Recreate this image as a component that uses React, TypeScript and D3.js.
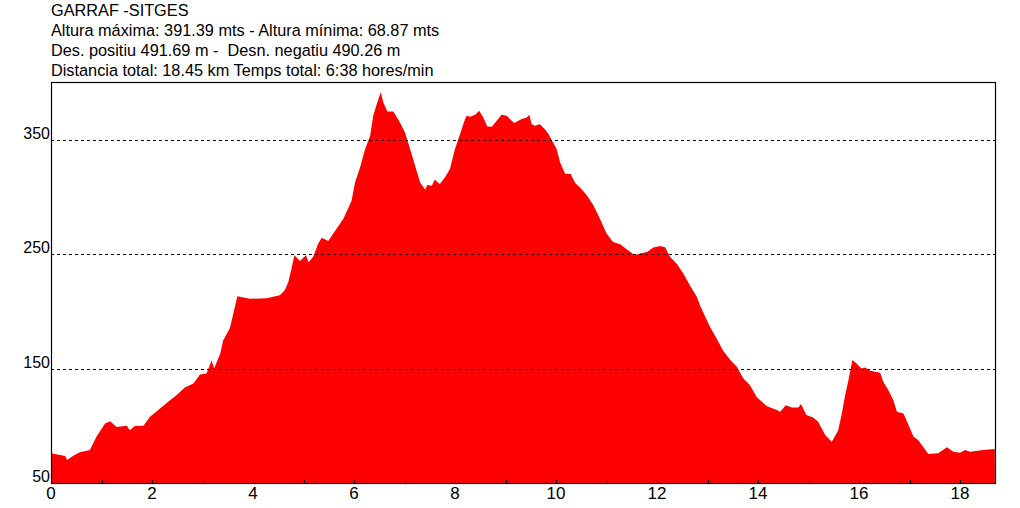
import { useEffect, useRef } from 'react';
import * as d3 from 'd3';

// profile: distance (km) and altitude (m)
const distKm = [
  0, 0.28, 0.32, 0.44, 0.57, 0.77, 0.9, 1.07, 1.17, 1.3, 1.5, 1.56, 1.66, 1.83, 1.96,
  2.16, 2.32, 2.49, 2.65, 2.82, 2.95, 3.08, 3.18, 3.23, 3.35, 3.41, 3.54, 3.61, 3.69,
  3.94, 4.27, 4.53, 4.63, 4.7, 4.77, 4.82, 4.93, 5.05, 5.1, 5.19, 5.29, 5.36, 5.49,
  5.59, 5.79, 5.95, 6.02, 6.12, 6.22, 6.32, 6.38, 6.45, 6.53, 6.58, 6.66, 6.78, 6.91,
  7.01, 7.11, 7.21, 7.31, 7.41, 7.45, 7.54, 7.6, 7.7, 7.8, 7.9, 8.0, 8.1, 8.2, 8.23,
  8.3, 8.4, 8.48, 8.56, 8.64, 8.73, 8.83, 8.92, 9.02, 9.17, 9.32, 9.42, 9.47, 9.52,
  9.58, 9.68, 9.78, 9.85, 10.01, 10.08, 10.18, 10.29, 10.38, 10.48, 10.61, 10.74,
  10.87, 11.0, 11.13, 11.27, 11.4, 11.56, 11.66, 11.8, 11.93, 12.06, 12.16, 12.26,
  12.39, 12.52, 12.65, 12.79, 12.85, 13.05, 13.18, 13.31, 13.45, 13.58, 13.71, 13.84,
  13.97, 14.17, 14.37, 14.44, 14.55, 14.67, 14.8, 14.85, 14.96, 15.09, 15.19, 15.33,
  15.46, 15.52, 15.59, 15.66, 15.72, 15.79, 15.87, 15.95, 16.05, 16.12, 16.22, 16.42,
  16.48, 16.58, 16.68, 16.75, 16.88, 16.98, 17.08, 17.17, 17.27, 17.37, 17.57, 17.74,
  17.87, 18.0, 18.1, 18.2, 18.46, 18.69,
];
const elevM = [
  76, 73.6, 70, 73.8, 76.8, 78.8, 90.4, 102, 104, 99, 100, 96, 99.8, 100, 107.9,
  115.2, 121, 126.8, 133.5, 137, 144.9, 145.7, 157, 150, 163, 174.8, 185, 198, 213.2,
  211, 211.5, 214, 218.5, 225.7, 238.8, 249, 244, 249, 243, 247.5, 259, 264.4, 261.5,
  268, 281, 296.4, 312.7, 325.8, 341.8, 353.5, 371, 381, 391.4, 382.6, 374.7, 374.7, 365,
  356.4, 341.8, 327.3, 312.7, 306.3, 310.4, 309.8, 315, 311.2, 317, 324.3, 341.8, 354.9, 368, 371,
  370, 371.8, 375.3, 369.5, 361.6, 361.3, 366.8, 371.8, 371, 364.5, 368, 369.5, 371.8, 363.6,
  362.2, 363.6, 359.2, 354.9, 342, 330.4, 320.3, 320, 312.1, 308, 301.4, 292.7,
  281, 268, 260.6, 258.6, 254.2, 249, 250.5, 251.9, 255.7, 257.1, 256, 247.5,
  241.7, 233, 222.8, 212.6, 205.4, 186.4, 176.3, 165.5, 157.4, 151.5, 141.4, 135.5,
  125.3, 117.2, 113.7, 112.2, 118, 116, 116, 119, 109.4, 107.3, 103.5, 91.9,
  86, 90.4, 96.3, 110.8, 125.3, 139.9, 157.4, 154.5, 150.1, 151, 148, 146.3,
  138.4, 131.2, 122.4, 112.2, 110.8, 100.6, 90.4, 87.5, 81.7, 75.3, 75.9, 81.2,
  77.3, 76.4, 78.8, 77.3, 78.8, 79.7,
];

const headerLines = [
  'GARRAF -SITGES',
  'Altura máxima: 391.39 mts - Altura mínima: 68.87 mts',
  'Des. positiu 491.69 m -  Desn. negatiu 490.26 m',
  'Distancia total: 18.45 km Temps total: 6:38 hores/min',
];
const xTickLabels = [0, 2, 4, 6, 8, 10, 12, 14, 16, 18];
const yTickLabels = [50, 150, 250, 350];
const gridLevels = [150, 250, 350];

const W = 1020;
const H = 508;
const FONT = 'Arial, "Liberation Sans", sans-serif';

export default function App() {
  const svgRef = useRef<SVGSVGElement>(null);

  useEffect(() => {
    if (!svgRef.current) return;
    const svg = d3.select(svgRef.current);
    svg.selectAll('*').remove();

    const left = 51, right = 995, top = 82, bottom = 483;
    const x = d3.scaleLinear().domain([0, 18]).range([left, 960]);
    const y = d3.scaleLinear().domain([50, 400]).range([bottom, top + 0.5]);

    svg.append('rect').attr('width', W).attr('height', H).attr('fill', '#fff');

    // header text
    svg.append('g')
      .selectAll('text')
      .data(headerLines)
      .enter().append('text')
      .attr('x', left)
      .attr('y', (d, i) => 16 + i * 20)
      .style('font-family', FONT)
      .style('font-size', '16.3px')
      .style('white-space', 'pre')
      .style('fill', '#000')
      .text(d => d);

    const pts = distKm.map((d, i) => [d, elevM[i]] as [number, number]);

    const area = d3.area<[number, number]>()
      .x(d => x(d[0]))
      .y0(bottom)
      .y1(d => y(d[1]))
      .curve(d3.curveLinear);

    svg.append('path')
      .datum(pts)
      .attr('d', area)
      .attr('fill', '#ff0000');

    // dashed grid over the fill
    svg.append('g')
      .selectAll('line')
      .data(gridLevels)
      .enter().append('line')
      .attr('x1', left)
      .attr('x2', right)
      .attr('y1', d => Math.round(y(d)) + 0.5)
      .attr('y2', d => Math.round(y(d)) + 0.5)
      .attr('stroke', '#000')
      .attr('stroke-width', 1)
      .attr('stroke-dasharray', '3,3');

    // small ticks on the bottom axis, one per km
    svg.append('g')
      .selectAll('line')
      .data(d3.range(0, 19))
      .enter().append('line')
      .attr('x1', d => Math.round(x(d)) + 0.5)
      .attr('x2', d => Math.round(x(d)) + 0.5)
      .attr('y1', bottom)
      .attr('y2', bottom - 3)
      .attr('stroke', '#000');

    // frame
    svg.append('rect')
      .attr('x', left + 0.5)
      .attr('y', top + 0.5)
      .attr('width', right - left)
      .attr('height', bottom - top)
      .attr('fill', 'none')
      .attr('stroke', '#000')
      .attr('stroke-width', 1.2);

    // y labels
    svg.append('g')
      .selectAll('text')
      .data(yTickLabels)
      .enter().append('text')
      .attr('x', left - 1)
      .attr('y', d => y(d) - 1)
      .attr('text-anchor', 'end')
      .style('font-family', FONT)
      .style('font-size', '16px')
      .style('fill', '#000')
      .text(d => d);

    // x labels
    svg.append('g')
      .selectAll('text')
      .data(xTickLabels)
      .enter().append('text')
      .attr('x', d => x(d))
      .attr('y', 499)
      .attr('text-anchor', 'middle')
      .style('font-family', FONT)
      .style('font-size', '17px')
      .style('fill', '#000')
      .text(d => d);
  }, []);

  return (
    <svg
      ref={svgRef}
      width={W}
      height={H}
      style={{ position: 'absolute', left: 0, top: 0, display: 'block' }}
    />
  );
}
